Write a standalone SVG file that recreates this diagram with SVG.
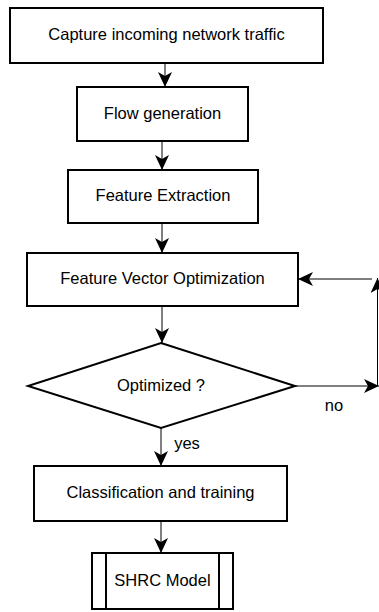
<svg xmlns="http://www.w3.org/2000/svg" width="379" height="612" viewBox="0 0 379 612">
<style>
.box{fill:#fff;stroke:#000;stroke-width:2}
.lbl{font-family:"Liberation Sans",Arial,sans-serif;font-size:16.5px;fill:#000;text-anchor:middle;dominant-baseline:central}
.edge{stroke:#000;stroke-width:1;fill:none;marker-end:url(#arr)}
</style>
<defs>
<marker id="arr" viewBox="0 0 15 14" refX="15" refY="7" markerWidth="15" markerHeight="14" orient="auto" markerUnits="userSpaceOnUse">
<path d="M0,0 L15,7 L0,14 L4,7 Z" fill="#000"/>
</marker>
</defs>
<rect width="379" height="612" fill="#fff"/>
<g id="edges">
<line class="edge" x1="165" y1="63" x2="165" y2="87"/>
<line class="edge" x1="162" y1="141" x2="162" y2="170"/>
<line class="edge" x1="162" y1="223" x2="162" y2="253"/>
<line class="edge" x1="162" y1="306" x2="162" y2="343"/>
<line class="edge" x1="295" y1="386" x2="379" y2="386"/>
<line class="edge" x1="377.5" y1="386" x2="377.5" y2="278"/>
<line class="edge" x1="372" y1="279" x2="298" y2="279"/>
<line class="edge" x1="161" y1="428" x2="161" y2="466" stroke="#555"/>
<line class="edge" x1="161" y1="521" x2="161" y2="553"/>
<text class="lbl" x="187" y="443">yes</text>
<text class="lbl" x="334" y="405">no</text>
</g>
<g id="n1">
<rect class="box" x="10" y="8" width="313" height="55"/>
<text class="lbl" x="166.5" y="34">Capture incoming network traffic</text>
</g>
<g id="n2">
<rect class="box" x="77" y="87" width="171" height="54"/>
<text class="lbl" x="162.5" y="113">Flow generation</text>
</g>
<g id="n3">
<rect class="box" x="68" y="170" width="190" height="53"/>
<text class="lbl" x="163" y="195">Feature Extraction</text>
</g>
<g id="n4">
<rect class="box" x="27" y="253" width="271" height="53"/>
<text class="lbl" x="162.5" y="278">Feature Vector Optimization</text>
</g>
<g id="n5">
<polygon class="box" points="161,343 295,386 161,428 28,386"/>
<text class="lbl" x="161" y="385">Optimized ?</text>
</g>
<g id="n6">
<rect class="box" x="34" y="466" width="253" height="55"/>
<text class="lbl" x="160.5" y="492">Classification and training</text>
</g>
<g id="n7">
<rect class="box" x="92" y="553" width="141" height="56"/>
<line x1="106" y1="553" x2="106" y2="609" stroke="#000" stroke-width="2"/>
<line x1="219" y1="553" x2="219" y2="609" stroke="#000" stroke-width="2"/>
<text class="lbl" x="162.5" y="580">SHRC Model</text>
</g>
</svg>
